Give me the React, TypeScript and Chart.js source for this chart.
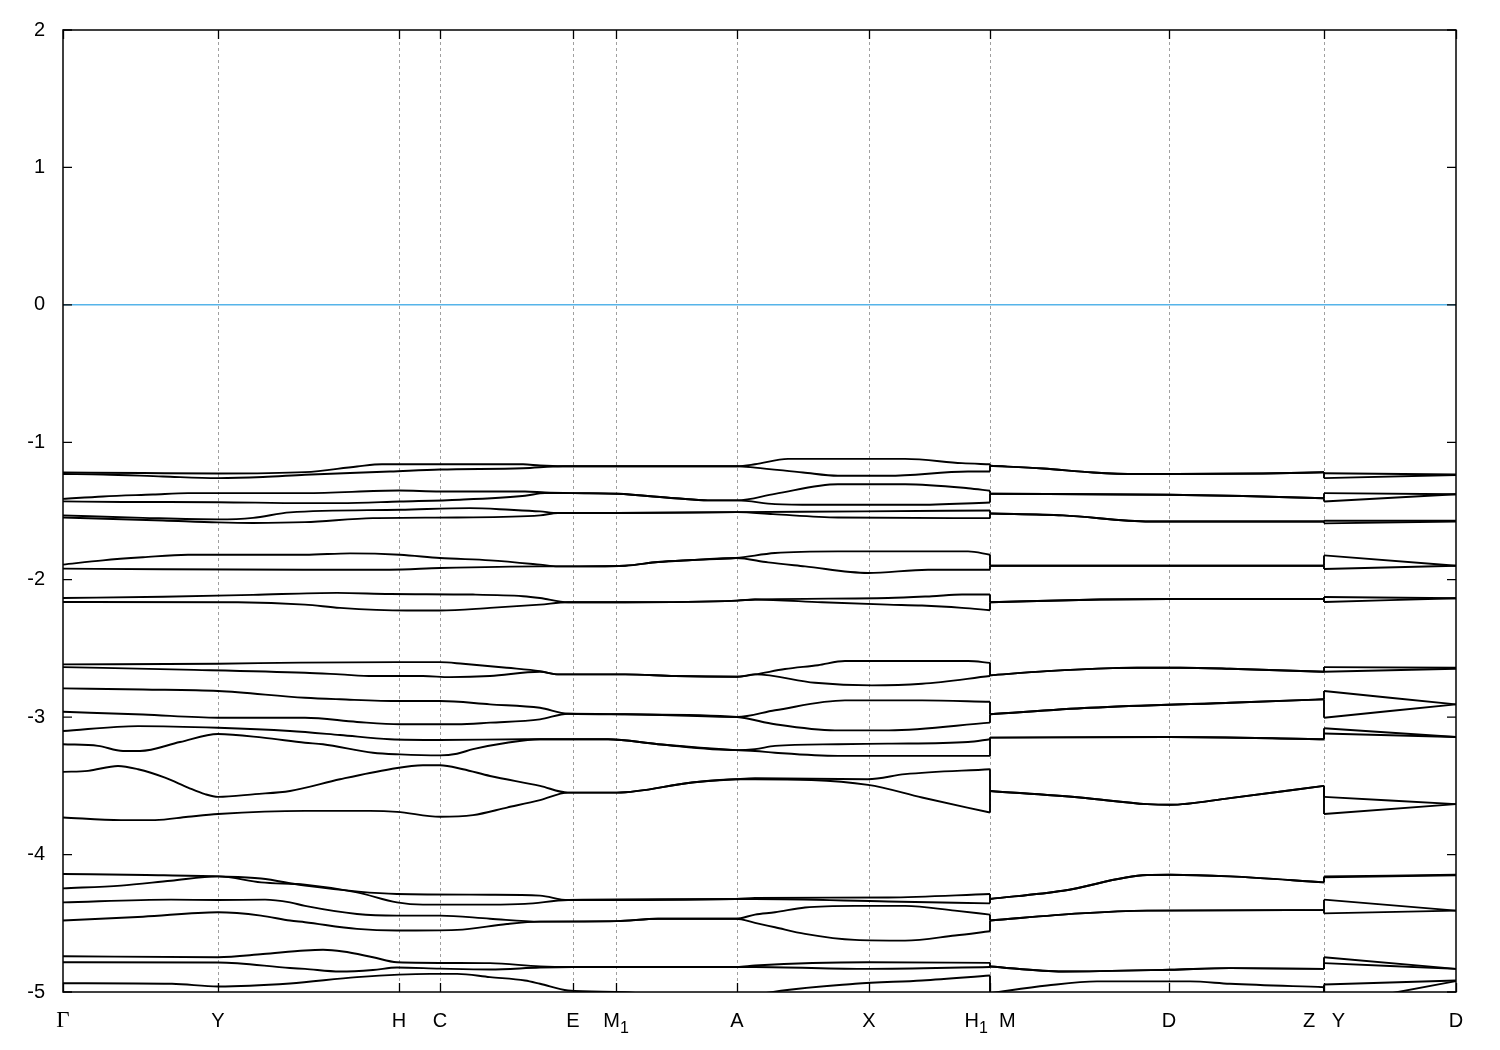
import React, { useEffect, useRef } from "react";
import { Chart, registerables } from "chart.js";
Chart.register(...registerables);

// k-path positions of the high-symmetry points and their labels ("_" = subscript)
const kPositions = [0, 155, 336, 377, 510, 553, 674, 806, 927, 1106, 1261, 1393];
const kLabels = ["Γ", "Y", "H", "C", "E", "M_1", "A", "X", "H_1  M", "D", "Z   Y", "D"];
const energyMin = -5;
const energyMax = 2;
const fermiLine = [[0, 0], [1393, 0]];

// bands: [k, energy (eV)]
const band01 = [[0,-1.220],[80,-1.224],[155,-1.227],[242,-1.217],[294,-1.176],[319,-1.160],[460,-1.160],[477,-1.169],[500,-1.174],[553,-1.174],[674,-1.174],[692,-1.160],[725,-1.121],[842,-1.121],[899,-1.152],[927,-1.160],[927,-1.171],[980,-1.191],[1030,-1.220],[1074,-1.231],[1106,-1.231],[1200,-1.227],[1261,-1.218],[1261,-1.225],[1393,-1.234]];
const band02 = [[0,-1.231],[40,-1.234],[100,-1.249],[155,-1.261],[200,-1.253],[242,-1.236],[327,-1.213],[377,-1.198],[460,-1.189],[500,-1.174],[553,-1.174],[674,-1.174],[692,-1.184],[740,-1.220],[775,-1.244],[825,-1.244],[905,-1.213],[927,-1.213],[927,-1.171],[980,-1.191],[1030,-1.220],[1074,-1.231],[1106,-1.231],[1200,-1.227],[1261,-1.218],[1261,-1.261],[1393,-1.238]];
const band03 = [[0,-1.412],[40,-1.394],[90,-1.380],[125,-1.370],[242,-1.370],[336,-1.351],[377,-1.358],[462,-1.358],[482,-1.365],[510,-1.370],[554,-1.375],[612,-1.407],[645,-1.423],[674,-1.423],[712,-1.375],[775,-1.305],[842,-1.305],[905,-1.334],[927,-1.353],[927,-1.375],[1106,-1.382],[1180,-1.391],[1261,-1.407],[1261,-1.370],[1393,-1.378]];
const band04 = [[0,-1.430],[60,-1.434],[155,-1.436],[242,-1.443],[277,-1.443],[337,-1.431],[397,-1.418],[462,-1.389],[482,-1.370],[510,-1.370],[554,-1.375],[612,-1.407],[645,-1.423],[674,-1.423],[712,-1.450],[752,-1.455],[852,-1.455],[927,-1.438],[927,-1.375],[1106,-1.382],[1180,-1.391],[1261,-1.407],[1261,-1.431],[1393,-1.378]];
const band05 = [[0,-1.532],[80,-1.550],[155,-1.561],[190,-1.550],[227,-1.510],[337,-1.491],[407,-1.479],[447,-1.491],[477,-1.503],[495,-1.515],[553,-1.515],[674,-1.508],[800,-1.503],[927,-1.496],[927,-1.518],[1000,-1.532],[1087,-1.576],[1261,-1.576],[1261,-1.571],[1393,-1.571]];
const band06 = [[0,-1.547],[100,-1.569],[155,-1.583],[190,-1.587],[242,-1.581],[310,-1.552],[394,-1.547],[477,-1.532],[495,-1.515],[553,-1.515],[674,-1.508],[710,-1.523],[775,-1.547],[927,-1.552],[927,-1.518],[1000,-1.532],[1087,-1.576],[1261,-1.576],[1261,-1.590],[1393,-1.576]];
const band07 = [[0,-1.890],[40,-1.859],[80,-1.837],[125,-1.818],[242,-1.818],[287,-1.808],[337,-1.818],[377,-1.842],[427,-1.859],[477,-1.890],[495,-1.903],[562,-1.898],[595,-1.871],[629,-1.857],[673,-1.842],[712,-1.806],[775,-1.794],[905,-1.794],[927,-1.818],[927,-1.898],[1261,-1.898],[1261,-1.823],[1393,-1.898]];
const band08 = [[0,-1.919],[100,-1.924],[242,-1.927],[327,-1.927],[377,-1.915],[477,-1.903],[495,-1.903],[562,-1.898],[595,-1.871],[629,-1.857],[673,-1.842],[705,-1.874],[742,-1.903],[805,-1.951],[865,-1.927],[927,-1.927],[927,-1.898],[1261,-1.898],[1261,-1.922],[1393,-1.898]];
const band09 = [[0,-2.133],[100,-2.124],[190,-2.110],[274,-2.096],[327,-2.104],[410,-2.108],[460,-2.120],[477,-2.133],[505,-2.164],[562,-2.164],[674,-2.152],[692,-2.144],[825,-2.133],[869,-2.120],[899,-2.108],[927,-2.108],[927,-2.164],[1037,-2.144],[1106,-2.140],[1261,-2.140],[1261,-2.126],[1393,-2.135]];
const band10 = [[0,-2.162],[175,-2.164],[242,-2.181],[277,-2.205],[344,-2.224],[377,-2.224],[427,-2.205],[477,-2.181],[505,-2.164],[562,-2.164],[674,-2.152],[692,-2.144],[759,-2.164],[825,-2.181],[859,-2.188],[899,-2.205],[927,-2.222],[927,-2.164],[1037,-2.144],[1106,-2.140],[1261,-2.140],[1261,-2.162],[1393,-2.135]];
const band11 = [[0,-2.616],[155,-2.611],[237,-2.603],[337,-2.600],[377,-2.600],[400,-2.612],[444,-2.641],[477,-2.665],[495,-2.689],[562,-2.689],[612,-2.701],[674,-2.706],[692,-2.689],[722,-2.650],[755,-2.622],[782,-2.592],[905,-2.592],[927,-2.605],[927,-2.696],[984,-2.665],[1050,-2.643],[1074,-2.641],[1117,-2.641],[1167,-2.648],[1261,-2.670],[1261,-2.636],[1393,-2.641]];
const band12 = [[0,-2.636],[120,-2.654],[242,-2.677],[277,-2.689],[310,-2.701],[360,-2.701],[387,-2.709],[427,-2.701],[477,-2.670],[495,-2.689],[562,-2.689],[612,-2.701],[674,-2.706],[692,-2.689],[752,-2.750],[809,-2.769],[859,-2.757],[927,-2.701],[927,-2.696],[984,-2.665],[1050,-2.643],[1074,-2.641],[1117,-2.641],[1167,-2.648],[1261,-2.670],[1261,-2.670],[1393,-2.648]];
const band13 = [[0,-2.791],[80,-2.799],[155,-2.810],[242,-2.859],[277,-2.870],[337,-2.883],[377,-2.883],[427,-2.907],[477,-2.932],[505,-2.975],[562,-2.979],[674,-2.999],[712,-2.950],[782,-2.878],[859,-2.878],[927,-2.888],[927,-2.979],[1027,-2.932],[1167,-2.895],[1261,-2.870],[1261,-2.810],[1393,-2.907]];
const band14 = [[0,-2.961],[80,-2.981],[155,-3.004],[242,-3.004],[294,-3.035],[337,-3.052],[394,-3.052],[427,-3.040],[477,-3.016],[505,-2.975],[562,-2.979],[674,-2.999],[712,-3.052],[772,-3.096],[826,-3.096],[927,-3.040],[927,-2.979],[1027,-2.932],[1167,-2.895],[1261,-2.870],[1261,-3.004],[1393,-2.907]];
const band15 = [[0,-3.101],[75,-3.065],[155,-3.077],[227,-3.101],[277,-3.130],[327,-3.161],[377,-3.166],[462,-3.161],[545,-3.161],[595,-3.197],[673,-3.240],[692,-3.233],[712,-3.209],[775,-3.197],[825,-3.193],[905,-3.181],[927,-3.161],[927,-3.149],[1106,-3.144],[1261,-3.161],[1261,-3.081],[1393,-3.144]];
const band16 = [[0,-3.197],[35,-3.209],[60,-3.246],[77,-3.246],[117,-3.181],[155,-3.123],[200,-3.149],[242,-3.186],[260,-3.197],[310,-3.259],[337,-3.271],[377,-3.278],[394,-3.266],[410,-3.233],[444,-3.186],[477,-3.161],[545,-3.161],[595,-3.197],[673,-3.240],[692,-3.246],[712,-3.259],[775,-3.282],[927,-3.282],[927,-3.149],[1106,-3.144],[1261,-3.161],[1261,-3.119],[1393,-3.144]];
const band17 = [[0,-3.398],[25,-3.391],[55,-3.355],[75,-3.379],[102,-3.440],[125,-3.512],[142,-3.560],[155,-3.580],[192,-3.560],[227,-3.537],[277,-3.452],[327,-3.379],[360,-3.350],[377,-3.350],[400,-3.379],[427,-3.428],[477,-3.500],[505,-3.549],[554,-3.549],[629,-3.476],[673,-3.452],[692,-3.445],[805,-3.452],[842,-3.415],[927,-3.379],[927,-3.537],[1017,-3.585],[1084,-3.633],[1107,-3.638],[1167,-3.589],[1261,-3.500],[1261,-3.580],[1393,-3.633]];
const band18 = [[0,-3.730],[58,-3.749],[92,-3.749],[125,-3.725],[155,-3.705],[242,-3.682],[307,-3.682],[334,-3.689],[377,-3.725],[410,-3.713],[444,-3.658],[477,-3.604],[505,-3.549],[554,-3.549],[629,-3.476],[673,-3.452],[692,-3.452],[805,-3.493],[859,-3.585],[927,-3.694],[927,-3.537],[1017,-3.585],[1084,-3.633],[1107,-3.638],[1167,-3.589],[1261,-3.500],[1261,-3.705],[1393,-3.633]];
const band19 = [[0,-4.141],[83,-4.149],[155,-4.159],[198,-4.174],[242,-4.226],[334,-4.287],[427,-4.292],[477,-4.299],[505,-4.331],[673,-4.323],[692,-4.316],[825,-4.312],[927,-4.287],[927,-4.323],[1000,-4.263],[1084,-4.149],[1107,-4.147],[1167,-4.159],[1261,-4.202],[1261,-4.159],[1393,-4.147]];
const band20 = [[0,-4.246],[58,-4.226],[108,-4.190],[155,-4.159],[198,-4.202],[242,-4.219],[294,-4.275],[334,-4.348],[360,-4.364],[427,-4.364],[462,-4.359],[505,-4.331],[673,-4.323],[692,-4.323],[825,-4.341],[927,-4.355],[927,-4.323],[1000,-4.263],[1084,-4.149],[1107,-4.147],[1167,-4.159],[1261,-4.202],[1261,-4.166],[1393,-4.150]];
const band21 = [[0,-4.348],[108,-4.328],[155,-4.331],[202,-4.328],[227,-4.348],[242,-4.373],[294,-4.432],[334,-4.444],[377,-4.444],[427,-4.467],[477,-4.488],[554,-4.484],[595,-4.467],[673,-4.467],[692,-4.437],[712,-4.420],[742,-4.385],[792,-4.373],[842,-4.373],[892,-4.408],[927,-4.437],[927,-4.480],[1017,-4.428],[1084,-4.408],[1261,-4.404],[1261,-4.328],[1393,-4.408]];
const band22 = [[0,-4.480],[80,-4.452],[155,-4.420],[198,-4.444],[227,-4.480],[242,-4.492],[294,-4.541],[334,-4.553],[394,-4.548],[444,-4.505],[477,-4.488],[554,-4.484],[595,-4.467],[673,-4.467],[692,-4.497],[712,-4.529],[742,-4.577],[792,-4.621],[842,-4.626],[892,-4.589],[927,-4.558],[927,-4.480],[1017,-4.428],[1084,-4.408],[1261,-4.404],[1261,-4.428],[1393,-4.408]];
const band23 = [[0,-4.740],[155,-4.747],[200,-4.724],[242,-4.698],[260,-4.693],[280,-4.705],[310,-4.747],[334,-4.783],[427,-4.790],[477,-4.814],[510,-4.818],[674,-4.818],[692,-4.807],[805,-4.783],[927,-4.788],[927,-4.814],[1000,-4.851],[1107,-4.838],[1167,-4.826],[1261,-4.832],[1261,-4.747],[1393,-4.832]];
const band24 = [[0,-4.783],[155,-4.785],[227,-4.825],[242,-4.832],[277,-4.851],[310,-4.840],[334,-4.822],[377,-4.830],[427,-4.836],[477,-4.822],[510,-4.818],[674,-4.818],[692,-4.818],[805,-4.832],[927,-4.818],[927,-4.814],[1000,-4.851],[1107,-4.838],[1167,-4.826],[1261,-4.832],[1261,-4.790],[1393,-4.832]];
const band25 = [[0,-4.936],[109,-4.940],[155,-4.960],[227,-4.938],[294,-4.892],[367,-4.868],[394,-4.868],[427,-4.892],[462,-4.916],[477,-4.940],[505,-4.989],[562,-5.001],[610,-5.040],[674,-5.060],[700,-5.011],[792,-4.940],[859,-4.916],[927,-4.880],[927,-5.008],[984,-4.953],[1034,-4.923],[1127,-4.923],[1167,-4.940],[1261,-4.965],[1261,-5.100],[1393,-4.921]];
const band26 = [[0,-5.300],[1261,-5.300],[1261,-4.945],[1393,-4.916]];

const bands = [band01, band02, band03, band04, band05, band06, band07, band08, band09, band10, band11, band12, band13, band14, band15, band16, band17, band18, band19, band20, band21, band22, band23, band24, band25, band26];

const SANS = "'Liberation Sans', Arial, Helvetica, sans-serif";
const SERIF = "'Liberation Serif', 'Times New Roman', serif";
const BAND_COLOR = "#000000";
const BAND_WIDTH = 1.9;

function drawRichLabel(ctx: CanvasRenderingContext2D, text: string, cx: number, baseY: number) {
  const runs: { t: string; sub: boolean; w?: number }[] = [];
  let cur = "";
  for (let i = 0; i < text.length; i++) {
    if (text[i] === "_" && i + 1 < text.length) {
      if (cur) runs.push({ t: cur, sub: false });
      cur = "";
      runs.push({ t: text[i + 1], sub: true });
      i++;
    } else cur += text[i];
  }
  if (cur) runs.push({ t: cur, sub: false });
  const fontFor = (r: { t: string; sub: boolean }) =>
    r.t === "Γ" ? `23px ${SERIF}` : r.sub ? `16px ${SANS}` : `20px ${SANS}`;
  let total = 0;
  runs.forEach((r) => {
    ctx.font = fontFor(r);
    r.w = ctx.measureText(r.t).width;
    total += r.w;
  });
  let x = cx - total / 2;
  runs.forEach((r) => {
    ctx.font = fontFor(r);
    ctx.fillText(r.t, x, baseY + (r.sub ? 6 : 0));
    x += r.w || 0;
  });
}

const framePlugin = {
  id: "gnuplotFrame",
  beforeDatasetsDraw(chart: any) {
    const { ctx, chartArea: a, scales } = chart;
    const xs = scales.x;
    ctx.save();
    ctx.strokeStyle = "#a0a0a0";
    ctx.lineWidth = 1;
    ctx.setLineDash([3, 3]);
    kPositions.forEach((v) => {
      if (v <= xs.min || v >= xs.max) return;
      const px = Math.round(xs.getPixelForValue(v)) + 0.5;
      ctx.beginPath();
      ctx.moveTo(px, a.top);
      ctx.lineTo(px, a.bottom);
      ctx.stroke();
    });
    ctx.restore();
  },
  afterDatasetsDraw(chart: any) {
    const { ctx, chartArea: a, scales } = chart;
    const xs = scales.x;
    const ys = scales.y;
    ctx.save();
    ctx.setLineDash([]);
    ctx.strokeStyle = "#000";
    ctx.lineWidth = 1.5;
    ctx.strokeRect(a.left, a.top, a.right - a.left, a.bottom - a.top);
    const tl = 9;
    ctx.lineWidth = 1.3;
    for (let v = energyMin; v <= energyMax; v++) {
      const py = ys.getPixelForValue(v);
      ctx.beginPath();
      ctx.moveTo(a.left, py);
      ctx.lineTo(a.left + tl, py);
      ctx.moveTo(a.right, py);
      ctx.lineTo(a.right - tl, py);
      ctx.stroke();
    }
    kPositions.forEach((v) => {
      const px = Math.round(xs.getPixelForValue(v)) + 0.5;
      ctx.beginPath();
      ctx.moveTo(px, a.bottom);
      ctx.lineTo(px, a.bottom - tl);
      ctx.moveTo(px, a.top);
      ctx.lineTo(px, a.top + tl);
      ctx.stroke();
    });
    ctx.fillStyle = "#000";
    ctx.textAlign = "left";
    ctx.textBaseline = "alphabetic";
    kPositions.forEach((v, i) => {
      drawRichLabel(ctx, kLabels[i], xs.getPixelForValue(v), a.bottom + 35);
    });
    ctx.restore();
  },
};

// split every band into its continuous path pieces (smooth) and the vertical jumps at the
// discontinuities of the k-path (straight)
function buildBandDatasets() {
  const out: any[] = [];
  bands.forEach((b, bi) => {
    let seg: { x: number; y: number }[] = [];
    const flush = () => {
      if (seg.length > 1)
        out.push({
          label: `band ${bi + 1}`,
          data: seg,
          showLine: true,
          borderColor: BAND_COLOR,
          borderWidth: BAND_WIDTH,
          pointRadius: 0,
          cubicInterpolationMode: "monotone",
          fill: false,
        });
    };
    for (let i = 0; i < b.length; i++) {
      const p = { x: b[i][0], y: b[i][1] };
      if (i > 0 && b[i][0] === b[i - 1][0]) {
        flush();
        out.push({
          label: `band ${bi + 1} jump`,
          data: [{ x: b[i - 1][0], y: b[i - 1][1] }, p],
          showLine: true,
          borderColor: BAND_COLOR,
          borderWidth: BAND_WIDTH,
          pointRadius: 0,
          tension: 0,
          fill: false,
        });
        seg = [p];
      } else seg.push(p);
    }
    flush();
  });
  return out;
}

export default function App() {
  const ref = useRef<HTMLCanvasElement>(null);
  useEffect(() => {
    if (!ref.current) return;
    const datasets: any[] = [
      {
        label: "E_F",
        data: fermiLine.map(([x, y]) => ({ x, y })),
        showLine: true,
        borderColor: "#56b4e9",
        borderWidth: 1.5,
        pointRadius: 0,
        tension: 0,
      },
      ...buildBandDatasets(),
    ];
    const chart = new Chart(ref.current, {
      type: "scatter",
      data: { datasets },
      options: {
        animation: false,
        responsive: false,
        events: [],
        layout: { padding: { top: 28, right: 44, bottom: 0, left: 0 } },
        plugins: { legend: { display: false }, tooltip: { enabled: false } },
        scales: {
          x: {
            type: "linear",
            min: kPositions[0],
            max: kPositions[kPositions.length - 1],
            ticks: { display: false },
            grid: { display: false, drawTicks: false },
            border: { display: false },
            afterFit: (s: any) => {
              s.height = 58;
            },
          },
          y: {
            min: energyMin,
            max: energyMax,
            ticks: {
              stepSize: 1,
              color: "#000",
              padding: 18,
              font: { family: SANS, size: 20 },
            },
            grid: { display: false, drawTicks: false },
            border: { display: false },
            afterFit: (s: any) => {
              s.width = 63;
            },
          },
        },
      } as any,
      plugins: [framePlugin],
    });
    return () => chart.destroy();
  }, []);
  return (
    <canvas
      ref={ref}
      width={1500}
      height={1050}
      style={{ position: "fixed", left: 0, top: 0, width: 1500, height: 1050, background: "#fff" }}
    />
  );
}
